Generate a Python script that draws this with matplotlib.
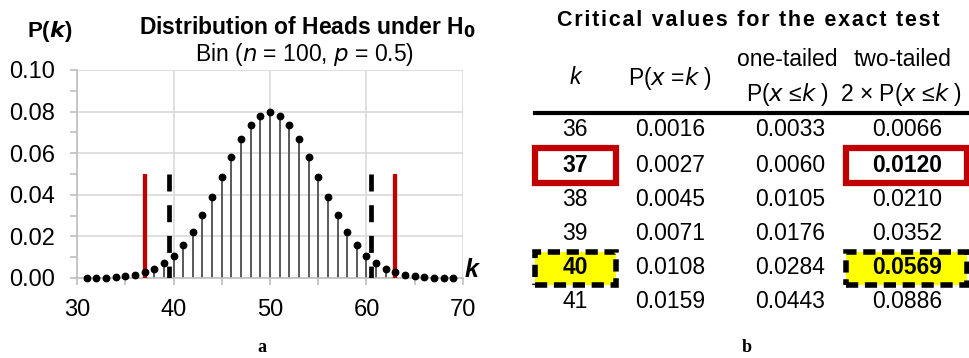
import matplotlib
matplotlib.use("Agg")
import matplotlib.pyplot as plt
from matplotlib.patches import Rectangle

plt.rcParams['font.family'] = ['Liberation Sans', 'DejaVu Sans']

# ---- data ----
k_vals = list(range(31, 70))
pk = [0.0001, 0.0001, 0.0002, 0.0005, 0.0009, 0.0016, 0.0027, 0.0045, 0.0071, 0.0108,
      0.0159, 0.0223, 0.0301, 0.0390, 0.0485, 0.0580, 0.0666, 0.0735, 0.0780, 0.0796,
      0.0780, 0.0735, 0.0666, 0.0580, 0.0485, 0.0390, 0.0301, 0.0223, 0.0159, 0.0108,
      0.0071, 0.0045, 0.0027, 0.0016, 0.0009, 0.0005, 0.0002, 0.0001, 0.0001]
crit_red = [37, 63]
crit_dash = [39.5, 60.5]
crit_height = 0.05
x_ticks = [30, 40, 50, 60, 70]
y_ticks = [0.00, 0.02, 0.04, 0.06, 0.08, 0.10]

tbl_k = ["36", "37", "38", "39", "40", "41"]
tbl_p = ["0.0016", "0.0027", "0.0045", "0.0071", "0.0108", "0.0159"]
tbl_one = ["0.0033", "0.0060", "0.0105", "0.0176", "0.0284", "0.0443"]
tbl_two = ["0.0066", "0.0120", "0.0210", "0.0352", "0.0569", "0.0886"]

W, H = 970, 358
fig = plt.figure(figsize=(W / 100, H / 100), dpi=100)

def fx(px):
    return px / W

def fy(py):
    return 1 - py / H

# ---- left chart ----
x0, x1, y0, y1 = 77, 463, 70, 278
ax = fig.add_axes([fx(x0), fy(y1), fx(x1 - x0), (y1 - y0) / H])
ax.set_xlim(30, 70)
ax.set_ylim(0, 0.10)
ax.set_xticks(x_ticks)
ax.set_yticks(y_ticks)
ax.set_xticks([35, 45, 55, 65], minor=True)
ax.set_yticks([0.01, 0.03, 0.05, 0.07, 0.09], minor=True)
ax.set_yticklabels([f"{v:.2f}" for v in y_ticks])
ax.grid(True, which='major', color='#d9d9d9', lw=1.2, zorder=0)
ax.set_axisbelow(True)
for s in ['top', 'right']:
    ax.spines[s].set_visible(False)
for s in ['left', 'bottom']:
    ax.spines[s].set_color('#bfbfbf')
    ax.spines[s].set_linewidth(1.2)
ax.tick_params(which='both', direction='out', color='#bfbfbf', width=1.2, length=5,
               labelsize=17)
ax.tick_params(axis='y', pad=11)
ax.tick_params(axis='x', pad=10)

ax.vlines(k_vals, 0, pk, color='#595959', lw=1.4, zorder=2)
ax.plot(k_vals, pk, 'o', color='black', ms=4.6, zorder=4, clip_on=False)
ax.vlines(crit_red, 0, crit_height, color='#c00000', lw=3.1, zorder=3)
ax.vlines(crit_dash, crit_height, 0, color='black', lw=3.4, linestyles=(0, (3.6, 2.9)), zorder=3)

fig.text(fx(27), fy(31), r"P($\boldsymbol{k}$)", fontsize=16, fontweight='bold', va='center', ha='left')
fig.text(fx(307), fy(27), r"Distribution of Heads under H$_\mathbf{0}$", fontsize=16.5,
         fontweight='bold', ha='center', va='center')
fig.text(fx(304), fy(55), r"Bin ($n$ = 100, $p$ = 0.5)", fontsize=16.5, ha='center', va='center')
fig.text(fx(472), fy(270), "k", fontsize=18, fontweight='bold', style='italic',
         ha='center', va='center')
fig.text(fx(262), fy(348), "a", fontsize=13, fontweight='bold',
         family=['Liberation Serif', 'DejaVu Serif'], ha='center', va='center')
fig.text(fx(747), fy(347), "b", fontsize=13, fontweight='bold',
         family=['Liberation Serif', 'DejaVu Serif'], ha='center', va='center')

# ---- right table ----
title_b = "Critical values for the exact test"
fig.text(fx(748), fy(21), "\u200a".join(title_b), fontsize=15.5, fontweight='bold',
         ha='center', va='center')
cols = [575, 670, 790, 907]
fig.text(fx(cols[0]), fy(78), "k", fontsize=16.5, style='italic', ha='center', va='center')
fig.text(fx(cols[1]), fy(78), r"P($x$ =$k$ )", fontsize=16.5, ha='center', va='center')
fig.text(fx(787), fy(60), "one-tailed", fontsize=16.5, ha='center', va='center')
fig.text(fx(903), fy(60), "two-tailed", fontsize=16.5, ha='center', va='center')
fig.text(fx(788), fy(94), r"P($x$ ≤$k$ )", fontsize=16.5, ha='center', va='center')
fig.text(fx(901), fy(94), r"2 × P($x$ ≤$k$ )", fontsize=16.5, ha='center', va='center')
fig.add_artist(plt.Line2D([fx(535), fx(967)], [fy(113), fy(113)], color='black', lw=3))

row_y = [129, 165, 199, 234, 268, 302]
# highlight boxes
for (bx0, bx1) in [(535, 616), (846, 967)]:
    fig.add_artist(Rectangle((fx(bx0), fy(183)), fx(bx1 - bx0), (183 - 148) / H,
                             fill=False, edgecolor='#c00000', lw=4.5))
    fig.add_artist(Rectangle((fx(bx0), fy(285)), fx(bx1 - bx0), (285 - 252) / H,
                             facecolor='#ffff00', edgecolor='black', lw=4,
                             linestyle=(0, (2.2, 1.2))))
for i in range(len(tbl_k)):
    bold = 'bold' if i in (1, 4) else 'normal'
    vals = [tbl_k[i], tbl_p[i], tbl_one[i], tbl_two[i]]
    for j, v in enumerate(vals):
        w = bold if j in (0, 3) else 'normal'
        fig.text(fx(cols[j]), fy(row_y[i]), v, fontsize=16.5, fontweight=w,
                 ha='center', va='center', zorder=5)

fig.savefig("out.png", dpi=100)
